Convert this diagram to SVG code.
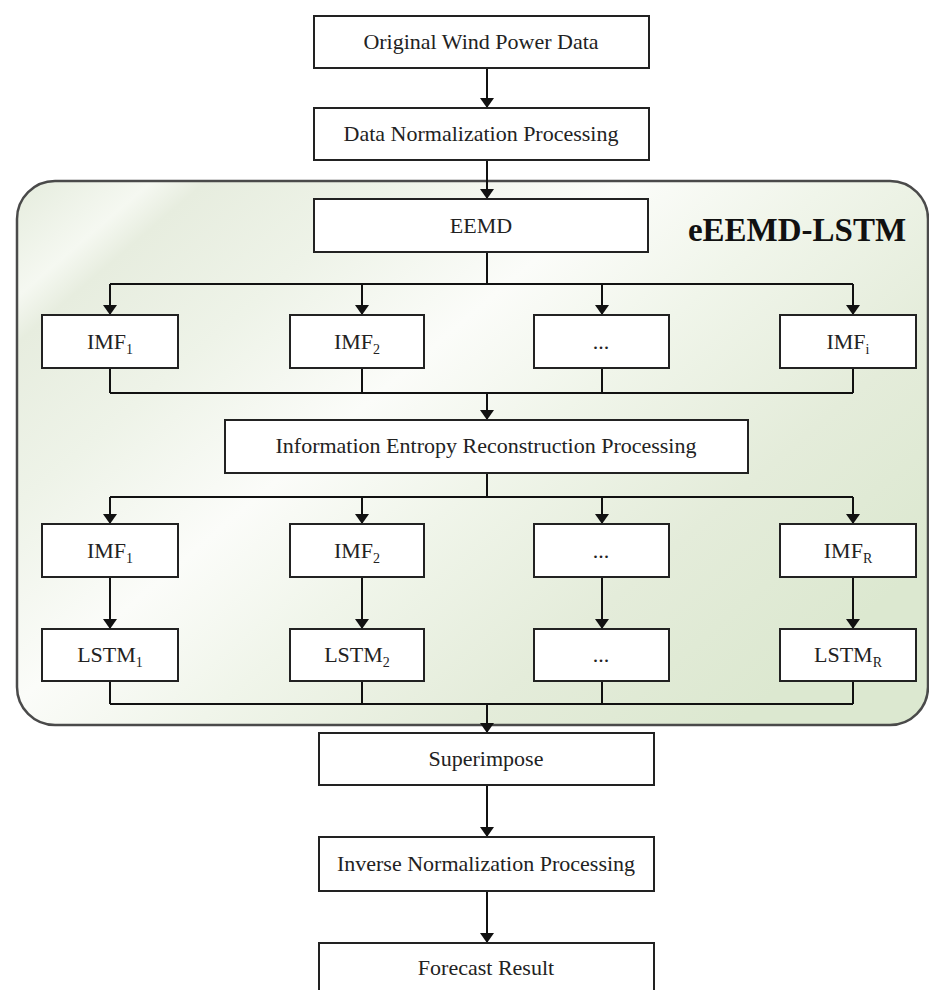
<svg xmlns="http://www.w3.org/2000/svg" width="929" height="990" viewBox="0 0 929 990">
<defs>
<linearGradient id="bg" x1="0" y1="0" x2="1" y2="0.7">
<stop offset="0" stop-color="#e5ecdd"/>
<stop offset="0.1" stop-color="#f5f8f1"/>
<stop offset="0.14" stop-color="#e7eddf"/>
<stop offset="0.28" stop-color="#eef3e8"/>
<stop offset="0.45" stop-color="#fbfcf9"/>
<stop offset="0.6" stop-color="#f0f5ea"/>
<stop offset="0.8" stop-color="#e4ecda"/>
<stop offset="1" stop-color="#dce8d0"/>
</linearGradient>
<marker id="ah" viewBox="0 0 10 14" refX="10" refY="7" markerWidth="10" markerHeight="14" markerUnits="userSpaceOnUse" orient="auto">
<path d="M0,0 L10,7 L0,14 Z" fill="#111"/>
</marker>
<style>
.box{fill:#fff;stroke:#222;stroke-width:2}
.t{font-family:"Liberation Serif","Times New Roman",serif;font-size:22px;fill:#222;text-anchor:middle}
.sub{font-size:14px}
.ln{fill:none;stroke:#111;stroke-width:2}
.ar{fill:none;stroke:#111;stroke-width:2;marker-end:url(#ah)}
</style>
</defs>
<rect width="929" height="990" fill="#fff"/>
<g id="container">
<rect x="17" y="181" width="911" height="544" rx="38" ry="38" fill="url(#bg)" stroke="#4a4a4a" stroke-width="2.5"/>
<text x="797" y="241" font-family="'Liberation Serif','Times New Roman',serif" font-size="33" font-weight="bold" fill="#111" text-anchor="middle">eEEMD-LSTM</text>
</g>
<g id="connectors">
<path class="ar" d="M487,68 V108"/>
<path class="ar" d="M487,160 V199"/>
<path class="ln" d="M487,252 V284 M110,284 H853"/>
<path class="ar" d="M110,284 V315"/>
<path class="ar" d="M362,284 V315"/>
<path class="ar" d="M602,284 V315"/>
<path class="ar" d="M853,284 V315"/>
<path class="ln" d="M110,368 V393 M362,368 V393 M602,368 V393 M853,368 V393 M110,393 H853"/>
<path class="ar" d="M487,393 V420"/>
<path class="ln" d="M487,473 V497 M110,497 H853"/>
<path class="ar" d="M110,497 V524"/>
<path class="ar" d="M362,497 V524"/>
<path class="ar" d="M602,497 V524"/>
<path class="ar" d="M853,497 V524"/>
<path class="ar" d="M110,577 V629"/>
<path class="ar" d="M362,577 V629"/>
<path class="ar" d="M602,577 V629"/>
<path class="ar" d="M853,577 V629"/>
<path class="ln" d="M110,681 V704 M362,681 V704 M602,681 V704 M853,681 V704 M110,704 H853"/>
<path class="ar" d="M487,704 V733"/>
<path class="ar" d="M487,785 V837"/>
<path class="ar" d="M487,891 V943"/>
</g>
<g id="n-original"><rect class="box" x="314" y="16" width="335" height="52"/><text class="t" x="481" y="49">Original Wind Power Data</text></g>
<g id="n-normalize"><rect class="box" x="314" y="108" width="335" height="52"/><text class="t" x="481" y="141">Data Normalization Processing</text></g>
<g id="n-eemd"><rect class="box" x="314" y="199" width="334" height="53"/><text class="t" x="481" y="233">EEMD</text></g>
<g id="n-imf1a"><rect class="box" x="42" y="315" width="136" height="53"/><text class="t" x="110" y="349">IMF<tspan class="sub" dy="5">1</tspan></text></g>
<g id="n-imf2a"><rect class="box" x="290" y="315" width="134" height="53"/><text class="t" x="357" y="349">IMF<tspan class="sub" dy="5">2</tspan></text></g>
<g id="n-dotsa"><rect class="box" x="534" y="315" width="135" height="53"/><text class="t" x="601" y="349">...</text></g>
<g id="n-imfi"><rect class="box" x="780" y="315" width="136" height="53"/><text class="t" x="848" y="349">IMF<tspan class="sub" dy="5">i</tspan></text></g>
<g id="n-entropy"><rect class="box" x="225" y="420" width="523" height="53"/><text class="t" x="486" y="453">Information Entropy Reconstruction Processing</text></g>
<g id="n-imf1b"><rect class="box" x="42" y="524" width="136" height="53"/><text class="t" x="110" y="558">IMF<tspan class="sub" dy="5">1</tspan></text></g>
<g id="n-imf2b"><rect class="box" x="290" y="524" width="134" height="53"/><text class="t" x="357" y="558">IMF<tspan class="sub" dy="5">2</tspan></text></g>
<g id="n-dotsb"><rect class="box" x="534" y="524" width="135" height="53"/><text class="t" x="601" y="558">...</text></g>
<g id="n-imfr"><rect class="box" x="780" y="524" width="136" height="53"/><text class="t" x="848" y="558">IMF<tspan class="sub" dy="5">R</tspan></text></g>
<g id="n-lstm1"><rect class="box" x="42" y="629" width="136" height="52"/><text class="t" x="110" y="662">LSTM<tspan class="sub" dy="5">1</tspan></text></g>
<g id="n-lstm2"><rect class="box" x="290" y="629" width="134" height="52"/><text class="t" x="357" y="662">LSTM<tspan class="sub" dy="5">2</tspan></text></g>
<g id="n-dotsc"><rect class="box" x="534" y="629" width="135" height="52"/><text class="t" x="601" y="662">...</text></g>
<g id="n-lstmr"><rect class="box" x="780" y="629" width="136" height="52"/><text class="t" x="848" y="662">LSTM<tspan class="sub" dy="5">R</tspan></text></g>
<g id="n-superimpose"><rect class="box" x="319" y="733" width="335" height="52"/><text class="t" x="486" y="766">Superimpose</text></g>
<g id="n-inverse"><rect class="box" x="319" y="837" width="335" height="54"/><text class="t" x="486" y="871">Inverse Normalization Processing</text></g>
<g id="n-forecast"><rect class="box" x="319" y="943" width="335" height="60"/><text class="t" x="486" y="975">Forecast Result</text></g>
</svg>
